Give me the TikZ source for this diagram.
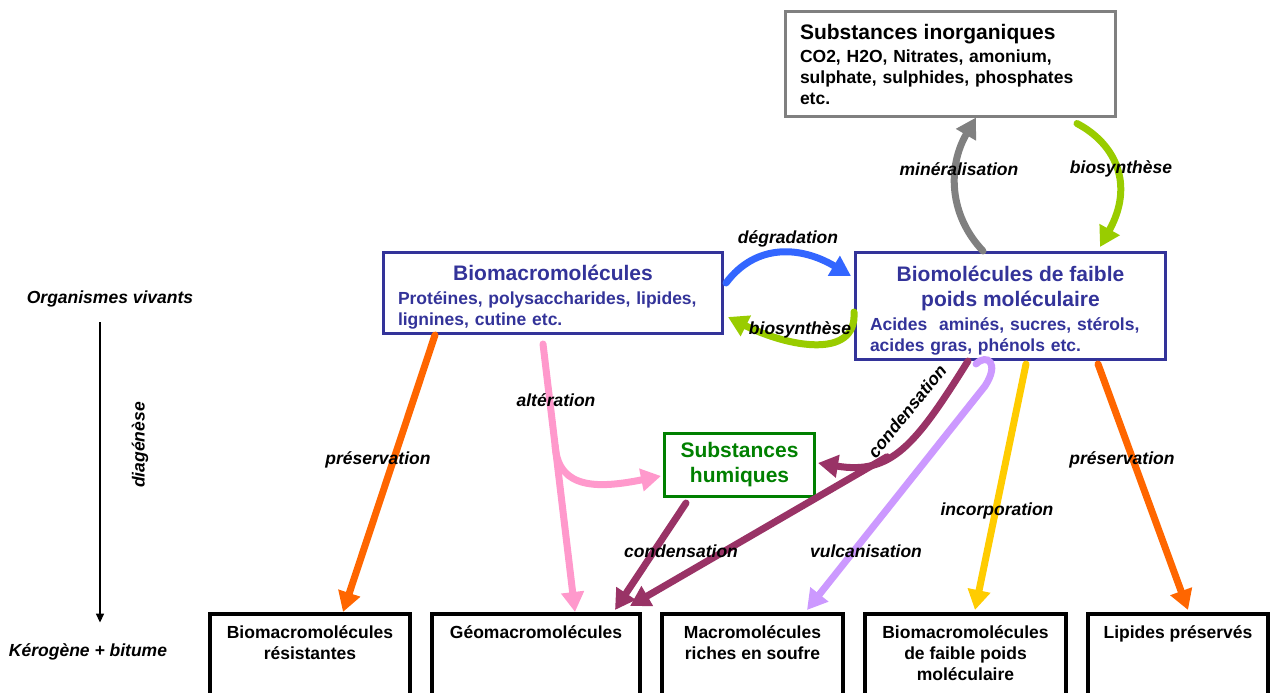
\documentclass[tikz,border=0pt]{standalone}
\usepackage{fontspec}
\setmainfont{Liberation Sans}
\usetikzlibrary{arrows.meta,positioning}

\definecolor{boxblue}{HTML}{333399}
\definecolor{boxgray}{HTML}{808080}
\definecolor{humgreen}{HTML}{008000}
\definecolor{arrgray}{HTML}{808080}
\definecolor{arrgreen}{HTML}{99CC00}
\definecolor{arrblue}{HTML}{3366FF}
\definecolor{arrorange}{HTML}{FF6600}
\definecolor{arrpink}{HTML}{FF99CC}
\definecolor{arrplum}{HTML}{993366}
\definecolor{arrlilac}{HTML}{CC99FF}
\definecolor{arryellow}{HTML}{FFCC00}

\newcommand{\ttl}{\fontsize{21}{25}\selectfont\bfseries}
\newcommand{\sbt}{\fontsize{17.5}{21}\selectfont\bfseries}
\newcommand{\lbl}{\fontsize{17.5}{21}\selectfont\bfseries\itshape}
\newcommand{\midline}[1]{\makebox[\hsize][c]{\ttl #1}}
\newcommand{\topgap}{\rule{0pt}{24pt}}

\tikzset{
  box/.style={draw, line width=3pt, inner sep=0pt, font=\sbt},
  topbox/.style={box, draw=boxgray, align=left},
  biobox/.style={box, draw=boxblue, text=boxblue, align=left},
  humbox/.style={box, draw=humgreen, text=humgreen, align=center, font=\ttl},
  outbox/.style={draw, line width=4pt, minimum height=86pt},
  outtext/.style={inner sep=0pt, align=center, font=\sbt},
  tag/.style={inner sep=0pt, font=\lbl},
  flow/.style={line width=7pt, line cap=round, -{Triangle[length=20pt,width=22pt]}},
}

\begin{document}
\begin{tikzpicture}[x=1pt, y=-1pt]
			%%%%% START %%%%%
			\useasboundingbox (0,0) rectangle (1271,693);
			
			\node[topbox, minimum width=330pt, minimum height=104pt, text width=300pt] (inorg) at (950,64)
				{{\ttl Substances inorganiques}\\[2pt]CO2, H2O, Nitrates, amonium,\\sulphate, sulphides, phosphates\\etc.};
			
			\node[biobox, minimum width=339pt, minimum height=81pt, text width=310pt] (macro) at (553,293)
				{\topgap\midline{Biomacromolécules}\\[3pt]Protéines, polysaccharides, lipides,\\lignines, cutine etc.};
			\node[biobox, minimum width=310pt, minimum height=107pt, text width=281pt] (biomol) at (1010.5,306)
				{\topgap\midline{Biomolécules de faible}\\[4pt]\midline{poids moléculaire}\\[3pt]Acides~ aminés, sucres, stérols,\\acides gras, phénols etc.};
			
			\node[humbox, minimum width=150pt, minimum height=63pt] (hum) at (739.5,465) {Substances\\humiques};
			
			\node[outbox, minimum width=200pt] (b1) at (310,657) {};
			\node[outbox, minimum width=208pt] (b2) at (536,657) {};
			\node[outbox, minimum width=181pt] (b3) at (752.5,657) {};
			\node[outbox, minimum width=201pt] (b4) at (965.5,657) {};
			\node[outbox, minimum width=180pt] (b5) at (1178,657) {};
			\node[outtext, below=13pt of b1.north] (t1) {Biomacromolécules\\résistantes};
			\node[outtext, below=13pt of b2.north] (t2) {Géomacromolécules};
			\node[outtext, below=13pt of b3.north] (t3) {Macromolécules\\riches en soufre};
			\node[outtext, below=13pt of b4.north] (t4) {Biomacromolécules\\de faible poids\\moléculaire};
			\node[outtext, below=13pt of b5.north] (t5) {Lipides préservés};
			
			\node[tag] (vivants) at (110,299) {Organismes vivants};
			\node[tag] (kerogene) at (88,652) {Kérogène + bitume};
			\node[tag, rotate=90] (diag) at (140,445) {diagénèse};
			\draw[line width=1.5pt, -{Triangle[length=9pt,width=8pt]}] ([xshift=-10pt,yshift=-15pt]vivants.south) -- ([xshift=12pt,yshift=21pt]kerogene.north);
			
			% cycle du haut
			\draw[flow, arrgray] ([xshift=-27.5pt]biomol.north) .. controls +(-35,-37) and +(-28,48) .. ([xshift=26pt]inorg.south);
			\draw[flow, arrgreen] ([xshift=127pt,yshift=-6pt]inorg.south) .. controls +(38,20) and +(35,-63) .. ([xshift=89.5pt,yshift=4pt]biomol.north);
			\draw[flow, arrblue] ([xshift=2pt,yshift=10pt]macro.east) .. controls +(30,-40) and +(-50,-30) .. ([xshift=-3pt,yshift=30pt]biomol.west);
			\draw[flow, arrgreen] ([yshift=-6pt]biomol.west) .. controls +(3,48) and +(60,30) .. ([xshift=4pt,yshift=-24pt]macro.east);
			
			% vers le bas
			\draw[flow, arrorange] ([xshift=-118pt]macro.south) -- ([xshift=33pt]b1.north);
			\path ([xshift=-10pt,yshift=-9pt]macro.south) -- ([xshift=39pt]b2.north) coordinate[pos=0.38] (alt);
			\draw[flow, arrpink] ([xshift=-10pt,yshift=-9pt]macro.south) -- ([xshift=39pt]b2.north);
			\draw[flow, arrpink] (alt) .. controls +(3,45) and +(-60,12) .. ([xshift=-2pt,yshift=-11pt]hum.west);
			\draw[flow, arrplum] ([xshift=-53.5pt,yshift=-5pt]hum.south) -- ([xshift=79pt,yshift=2pt]b2.north);
			\draw[flow, arrplum] ([xshift=-42.5pt]biomol.south) .. controls +(-53,85) and +(73,12) .. ([xshift=2pt,yshift=2pt]hum.east) coordinate[pos=0.6] (cond);
			\draw[flow, arrplum] (cond) -- ([xshift=94pt,yshift=6pt]b2.north);
			\draw[flow, arrlilac] ([xshift=-34.5pt,yshift=-3pt]biomol.south) .. controls +(11,-11) and +(15,-23) .. ([xshift=-25.5pt,yshift=-25pt]biomol.south) -- ([xshift=54.5pt,yshift=2pt]b3.north);
			\draw[flow, arryellow] ([xshift=15.5pt,yshift=-3pt]biomol.south) -- ([xshift=9.5pt,yshift=2pt]b4.north);
			\draw[flow, arrorange] ([xshift=87.5pt,yshift=-3pt]biomol.south) -- ([xshift=10pt,yshift=2pt]b5.north);
			
			% etiquettes
			\node[tag] (min) at (959,169) {minéralisation};
			\node[tag] (bios1) at (1121,169) {biosynthèse};
			\node[tag] (deg) at (788,239) {dégradation};
			\node[tag] (bios2) at (800,330) {biosynthèse};
			\node[tag] (pres1) at (378,460) {préservation};
			\node[tag] (alter) at (556,400) {altération};
			\node[tag, rotate=51] (cond1) at (907,411) {condensation};
			\node[tag] (cond2) at (681,551) {condensation};
			\node[tag] (vulc) at (866,551) {vulcanisation};
			\node[tag] (incorp) at (997,511) {incorporation};
			\node[tag] (pres2) at (1122,460) {préservation};
			
			%%%%% END %%%%%
		\end{tikzpicture}
\end{document}
